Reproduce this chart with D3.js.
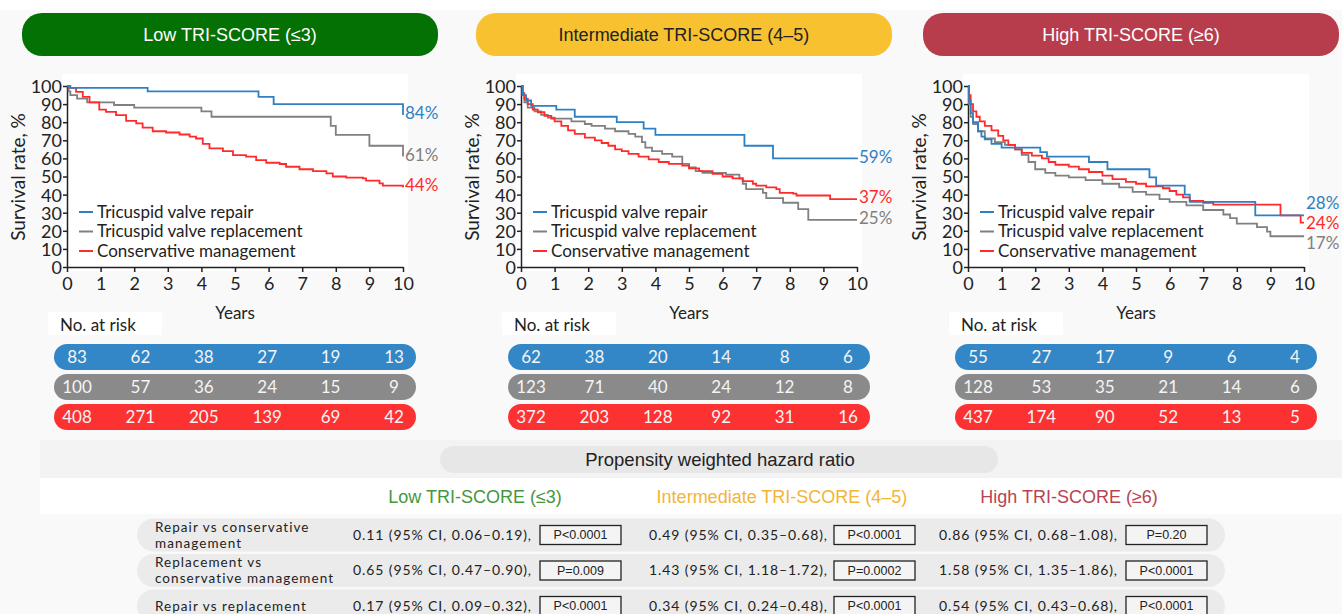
<!DOCTYPE html>
<html>
<head>
<meta charset="utf-8">
<script src="https://cdn.jsdelivr.net/npm/d3@7"></script>
<style>
  body { margin: 0; background: #f9f9f9; }
  svg { display: block; }
  .tick text { font-family: Lato, sans-serif; font-size: 18px; fill: #222; }
</style>
</head>
<body>
<div id="chart"></div>
<script>
// <SurvivalData>
var groupNames = ["Low TRI-SCORE (≤3)", "Intermediate TRI-SCORE (4–5)", "High TRI-SCORE (≥6)"];
var seriesNames = ["Tricuspid valve repair", "Tricuspid valve replacement", "Conservative management"];
var yearTicks = [0, 1, 2, 3, 4, 5, 6, 7, 8, 9, 10];
var survivalTicks = [0, 10, 20, 30, 40, 50, 60, 70, 80, 90, 100];
var riskYears = [0, 2, 4, 6, 8, 10];

// [years, survival %] step points
var lowRepair = [[0,100],[0.1,99],[2.4,97],[5.7,94],[6.15,90],[10,84]];
var lowReplacement = [[0,100],[0.05,97],[0.1,95],[0.3,93],[0.6,91],[1.4,89.5],[2.0,88],[4.0,86],[4.3,83],[7.85,78],[8.0,73],[9.0,67],[10,61]];
var lowConservative = [[0,100],[0.07,99],[0.27,96.7],[0.47,94],[0.67,91],[0.96,87],[1.16,85.7],[1.46,83.9],[1.76,80.7],[2.06,79.3],[2.25,77],[2.55,75],[2.95,74.3],[3.35,73.2],[3.65,72],[3.84,71],[4.04,68],[4.24,65.5],[4.64,64],[4.94,61.8],[5.33,61],[5.63,59],[5.93,57.6],[6.33,56.9],[6.52,55.4],[6.92,54],[7.32,53],[7.72,51.7],[7.91,50],[8.31,49.4],[8.81,49],[8.9,47.7],[9.3,46.2],[9.4,45],[10,44]];

var intRepair = [[0,100],[0.05,95],[0.15,92],[0.3,89],[1.05,87],[1.6,83],[2.85,80],[3.65,76.5],[4.0,73],[6.65,67],[7.5,60],[10,59.5]];
var intReplacement = [[0,100],[0.05,95],[0.1,91],[0.2,88],[0.4,86],[0.6,84],[0.8,82.5],[1.0,82],[1.5,80.5],[1.9,79],[2.1,78],[2.5,76.5],[2.8,75],[3.2,73.5],[3.4,72],[3.6,69],[3.7,66],[3.9,64],[4.2,62.5],[4.5,61],[4.8,57],[5.0,55],[5.2,53],[5.4,52],[6.1,51],[6.5,49],[6.6,46],[6.7,43],[7.2,41],[7.3,38],[7.8,35.5],[8.25,32],[8.55,26],[10,26]];
var intConservative = [[0,100],[0.05,96],[0.1,93],[0.2,90],[0.35,87],[0.5,85.5],[0.7,83.5],[0.9,82],[1.0,80.5],[1.2,78],[1.4,75.5],[1.6,73.5],[1.9,71.5],[2.2,70],[2.4,68.5],[2.6,67],[2.8,65],[3.0,64],[3.2,62.5],[3.5,61],[3.8,59.5],[4.1,58],[4.4,57],[4.8,56],[5.0,54.5],[5.3,53],[5.7,51.5],[6.0,50],[6.3,49],[6.6,47.5],[6.9,46],[7.0,45],[7.3,44],[7.6,43],[7.7,41],[8.1,40.5],[8.2,39.5],[9.2,37.5],[10,37.5]];

var highRepair = [[0,100],[0.03,92],[0.08,85],[0.15,80],[0.3,75],[0.4,72],[0.5,70.5],[0.7,68],[1.0,66],[2.15,63.5],[2.35,61],[3.6,58],[4.15,54],[5.4,49.5],[5.6,45],[6.45,40],[6.6,36],[8.55,28.5],[10,28.5]];
var highReplacement = [[0,100],[0.03,90],[0.08,83],[0.15,79],[0.3,75],[0.5,71],[0.8,69],[1.1,67.5],[1.4,65],[1.6,62],[1.8,58],[2.0,54],[2.3,52],[2.6,50.5],[3.0,49.5],[3.5,48],[4.0,46],[4.5,44],[4.9,41.5],[5.3,40],[5.7,37.5],[6.0,36],[6.5,34],[7.0,31.5],[7.6,29],[7.8,27],[8.0,24],[8.6,22],[8.9,19.5],[9.0,17],[10,17]];
var highConservative = [[0,100],[0.03,95],[0.08,90],[0.15,86],[0.25,83],[0.35,80.5],[0.5,78],[0.7,75.5],[0.9,72.5],[1.05,70],[1.2,67.5],[1.4,65],[1.6,63],[1.9,61.5],[2.2,60],[2.4,58],[2.6,56.5],[3.0,55.5],[3.3,54],[3.6,52.5],[4.0,50.5],[4.3,48.5],[4.7,47],[5.0,46],[5.3,44.5],[5.8,43.5],[6.0,42],[6.2,40],[6.4,38.5],[6.6,36.5],[7.0,35.5],[7.3,34.5],[9.3,28.5],[9.9,24.5],[10,24.5]];

var lowEnd = ["84%", "61%", "44%"];
var intEnd = ["59%", "25%", "37%"];
var highEnd = ["28%", "17%", "24%"];

var lowAtRisk = [[83,62,38,27,19,13],[100,57,36,24,15,9],[408,271,205,139,69,42]];
var intAtRisk = [[62,38,20,14,8,6],[123,71,40,24,12,8],[372,203,128,92,31,16]];
var highAtRisk = [[55,27,17,9,6,4],[128,53,35,21,14,6],[437,174,90,52,13,5]];

var comparisons = [["Repair vs conservative", "management"], ["Replacement vs", "conservative management"], ["Repair vs replacement"]];
var hrLow = ["0.11 (95% CI, 0.06–0.19),", "0.65 (95% CI, 0.47–0.90),", "0.17 (95% CI, 0.09–0.32),"];
var hrInt = ["0.49 (95% CI, 0.35–0.68),", "1.43 (95% CI, 1.18–1.72),", "0.34 (95% CI, 0.24–0.48),"];
var hrHigh = ["0.86 (95% CI, 0.68–1.08),", "1.58 (95% CI, 1.35–1.86),", "0.54 (95% CI, 0.43–0.68),"];
var pLow = ["P<0.0001", "P=0.009", "P<0.0001"];
var pInt = ["P<0.0001", "P=0.0002", "P<0.0001"];
var pHigh = ["P=0.20", "P<0.0001", "P<0.0001"];

var panels = [
  { name: groupNames[0], curves: [lowRepair, lowReplacement, lowConservative], ends: lowEnd, risk: lowAtRisk, hr: hrLow, p: pLow },
  { name: groupNames[1], curves: [intRepair, intReplacement, intConservative], ends: intEnd, risk: intAtRisk, hr: hrInt, p: pInt },
  { name: groupNames[2], curves: [highRepair, highReplacement, highConservative], ends: highEnd, risk: highAtRisk, hr: hrHigh, p: pHigh }
];

var seriesColor = d3.scaleOrdinal().domain(seriesNames).range(["#2f80c3", "#808080", "#ff2b2b"]);
var pillColor = d3.scaleOrdinal().domain(seriesNames).range(["#3487c6", "#8a8a8a", "#fc3232"]);
var headColor = ["#037103", "#f8c12f", "#b83d4c"];
var headText = ["#ffffff", "#222222", "#ffffff"];
var titleColor = ["#45973d", "#f2b534", "#b84452"];

var width = 1342, height = 614;
var plotX = [67, 521, 968];
var plotW = 336;
var plotTop = 86, plotBottom = 267;
var sans = "Lato, sans-serif";
var arial = "'Liberation Sans', Arial, sans-serif";

var svg = d3.select("#chart").append("svg")
    .attr("width", width)
    .attr("height", height);

svg.append("rect").attr("x", 0).attr("y", 0).attr("width", width).attr("height", 10).attr("fill", "#fff");

var y = d3.scaleLinear().domain([0, 100]).range([plotBottom, plotTop]);

panels.forEach(function (p, i) {
  var x0 = plotX[i];
  var x = d3.scaleLinear().domain([0, 10]).range([x0, x0 + plotW]);
  var g = svg.append("g");

  // header pill
  g.append("rect")
      .attr("x", x0 - 45).attr("y", 13)
      .attr("width", 416).attr("height", 43)
      .attr("rx", 20)
      .attr("fill", headColor[i]);
  g.append("text")
      .attr("x", x0 - 45 + 208).attr("y", 35)
      .attr("dy", "0.35em")
      .attr("text-anchor", "middle")
      .attr("font-family", arial).attr("font-size", 18)
      .attr("fill", headText[i])
      .text(p.name);

  // plot background
  g.append("rect")
      .attr("x", x0 - 5).attr("y", plotTop - 12)
      .attr("width", plotW + 10).attr("height", plotBottom - plotTop + 16)
      .attr("fill", "#fff");

  // axes
  var yAxis = g.append("g")
      .attr("transform", "translate(" + x0 + ",0)")
      .call(d3.axisLeft(y).tickValues(survivalTicks).tickSize(4).tickSizeOuter(0).tickPadding(1));
  var xAxis = g.append("g")
      .attr("transform", "translate(0," + plotBottom + ")")
      .call(d3.axisBottom(x).tickValues(yearTicks).tickSize(5).tickSizeOuter(0).tickPadding(5));
  [yAxis, xAxis].forEach(function (a) {
    a.selectAll("path, line").attr("stroke", "#222").attr("stroke-width", 1.5);
  });
  yAxis.selectAll("text").attr("dy", "0.36em");

  g.append("text")
      .attr("transform", "translate(" + (x0 - 42) + "," + 177 + ") rotate(-90)")
      .attr("text-anchor", "middle")
      .attr("font-family", sans).attr("font-size", 19).attr("fill", "#222")
      .text("Survival rate, %");
  g.append("text")
      .attr("x", x0 + plotW / 2).attr("y", 319)
      .attr("text-anchor", "middle")
      .attr("font-family", sans).attr("font-size", 17).attr("fill", "#222")
      .text("Years");

  // curves
  var line = d3.line()
      .x(function (d) { return x(d[0]); })
      .y(function (d) { return y(d[1]); })
      .curve(d3.curveStepAfter);

  // draw order: replacement, conservative, repair on top
  [1, 2, 0].forEach(function (k) {
    g.append("path")
        .datum(p.curves[k])
        .attr("d", line)
        .attr("fill", "none")
        .attr("stroke", seriesColor(seriesNames[k]))
        .attr("stroke-width", 1.8);
  });

  // end labels, nudged apart when they collide
  var labels = p.curves.map(function (c, k) {
    return { k: k, y: y(c[c.length - 1][1]) - 2 };
  }).sort(function (a, b) { return a.y - b.y; });
  for (var it = 0; it < 40; it++) {
    for (var j = 1; j < labels.length; j++) {
      var gap = labels[j].y - labels[j - 1].y;
      if (gap < 20) {
        var push = (20 - gap) / 2;
        labels[j].y += push;
        labels[j - 1].y -= push;
      }
    }
  }
  labels.forEach(function (l) {
    g.append("text")
        .attr("x", x0 + plotW + 2).attr("y", l.y)
        .attr("dy", "0.35em")
        .attr("font-family", sans).attr("font-size", 17)
        .attr("fill", seriesColor(seriesNames[l.k]))
        .text(p.ends[l.k]);
  });

  // legend
  seriesNames.forEach(function (s, k) {
    var ly = 212 + k * 19.5;
    g.append("line")
        .attr("x1", x0 + 12).attr("x2", x0 + 26)
        .attr("y1", ly).attr("y2", ly)
        .attr("stroke", seriesColor(s)).attr("stroke-width", 2);
    g.append("text")
        .attr("x", x0 + 30).attr("y", ly)
        .attr("dy", "0.35em")
        .attr("font-family", sans).attr("font-size", 17).attr("fill", "#222")
        .text(s);
  });

  // number at risk
  g.append("rect")
      .attr("x", x0 - 19).attr("y", 312)
      .attr("width", 114).attr("height", 23)
      .attr("fill", "#fff");
  g.append("text")
      .attr("x", x0 - 7).attr("y", 325)
      .attr("dy", "0.35em")
      .attr("font-family", sans).attr("font-size", 17).attr("fill", "#222")
      .text("No. at risk");

  var rx = d3.scaleLinear().domain([0, 10]).range([x0 + 10, x0 + plotW - 9]);
  p.risk.forEach(function (row, k) {
    var ry = 344 + k * 30;
    g.append("rect")
        .attr("x", x0 - 13).attr("y", ry)
        .attr("width", plotW + 26).attr("height", 26)
        .attr("rx", 13)
        .attr("fill", pillColor(seriesNames[k]));
    g.selectAll(null)
        .data(row)
        .enter().append("text")
        .attr("x", function (d, n) { return rx(riskYears[n]); })
        .attr("y", ry + 13)
        .attr("dy", "0.35em")
        .attr("text-anchor", "middle")
        .attr("font-family", sans).attr("font-size", 17)
        .attr("fill", "#f4f4f4")
        .text(function (d) { return d; });
  });
});

// hazard ratio section
svg.append("rect").attr("x", 40).attr("y", 440).attr("width", width - 40).attr("height", 38).attr("fill", "#f3f3f3");
svg.append("rect").attr("x", 40).attr("y", 478).attr("width", width - 40).attr("height", 36).attr("fill", "#fff");
svg.append("rect")
    .attr("x", 440).attr("y", 446)
    .attr("width", 558).attr("height", 27)
    .attr("rx", 13.5)
    .attr("fill", "#e7e7e7");
svg.append("text")
    .attr("x", 720).attr("y", 460)
    .attr("dy", "0.35em")
    .attr("text-anchor", "middle")
    .attr("font-family", arial).attr("font-size", 18.5).attr("fill", "#222")
    .text("Propensity weighted hazard ratio");

var titleX = [475, 782, 1069];
var hrX = [353, 649, 939];
var boxX = [540, 834, 1126];

groupNames.forEach(function (n, i) {
  svg.append("text")
      .attr("x", titleX[i]).attr("y", 497)
      .attr("dy", "0.35em")
      .attr("text-anchor", "middle")
      .attr("font-family", arial).attr("font-size", 18)
      .attr("fill", titleColor[i])
      .text(n);
});

comparisons.forEach(function (c, r) {
  var cy = 535 + r * 35.5;
  svg.append("rect")
      .attr("x", 137).attr("y", cy - 16.5)
      .attr("width", 1088).attr("height", 33)
      .attr("rx", 16.5)
      .attr("fill", "#ebebeb");
  c.forEach(function (t, l) {
    svg.append("text")
        .attr("x", 155).attr("y", c.length > 1 ? cy - 8 + l * 16 : cy)
        .attr("dy", "0.35em")
        .attr("font-family", sans).attr("font-size", 13.5)
        .attr("letter-spacing", 1.05).attr("fill", "#222")
        .text(t);
  });
  panels.forEach(function (p, i) {
    svg.append("text")
        .attr("x", hrX[i]).attr("y", cy)
        .attr("dy", "0.35em")
        .attr("font-family", sans).attr("font-size", 14)
        .attr("letter-spacing", 0.9).attr("fill", "#222")
        .text(p.hr[r]);
    svg.append("rect")
        .attr("x", boxX[i]).attr("y", cy - 9.5)
        .attr("width", 81).attr("height", 19)
        .attr("fill", "#f4f4f4")
        .attr("stroke", "#222").attr("stroke-width", 1.3);
    svg.append("text")
        .attr("x", boxX[i] + 40.5).attr("y", cy)
        .attr("dy", "0.35em")
        .attr("text-anchor", "middle")
        .attr("font-family", arial).attr("font-size", 12.5).attr("fill", "#222")
        .text(p.p[r]);
  });
});
</script>
</body>
</html>
